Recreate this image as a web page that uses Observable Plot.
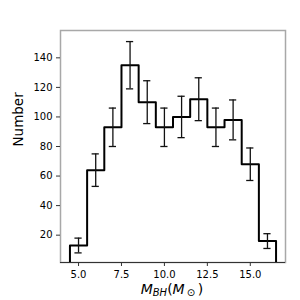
<!DOCTYPE html>
<html>
<head>
<meta charset="utf-8">
<script src="https://cdn.jsdelivr.net/npm/d3@7"></script>
<script src="https://cdn.jsdelivr.net/npm/@observablehq/plot@0.6"></script>
<style>
html,body{margin:0;padding:0;background:#fff;}
#chart{width:300px;height:300px;}
</style>
</head>
<body>
<div id="chart"></div>
<script>
const binCenters = [5, 6, 7, 8, 9, 10, 11, 12, 13, 14, 15, 16];
const counts = [13, 64, 93, 135, 110, 93, 100, 112, 93, 98, 68, 16];
const errors = [5, 11, 13, 16, 14.5, 13, 14, 14.5, 13, 13.5, 11, 5];
const xTicks = [5, 7.5, 10, 12.5, 15];
const yTicks = [20, 40, 60, 80, 100, 120, 140];
const xDomain = [3.95, 17.05];
const yDomain = [1.5, 158.5];

const binWidth = 1;
const stepPts = [{x: binCenters[0] - binWidth / 2, y: 0}]
  .concat(binCenters.map((c, i) => ({x: c - binWidth / 2, y: counts[i]})))
  .concat([{x: binCenters[binCenters.length - 1] + binWidth / 2, y: 0}]);
const errData = binCenters.map((c, i) => ({x: c, y: counts[i], lo: counts[i] - errors[i], hi: counts[i] + errors[i]}));
const capHalf = 0.21;

const chart = Plot.plot({
  width: 300,
  height: 300,
  marginLeft: 60,
  marginRight: 15,
  marginTop: 30,
  marginBottom: 38,
  style: {fontFamily: "DejaVu Sans", fontSize: "10px", color: "#000", background: "#fff"},
  x: {domain: xDomain, ticks: xTicks, tickFormat: d3.format(".1f"), label: null, tickSize: 4, tickPadding: 4},
  y: {domain: yDomain, ticks: yTicks, label: null, tickSize: 4, tickPadding: 4},
  marks: [
    Plot.frame({stroke: "#a8a8a8", strokeWidth: 1.5}),
    Plot.ruleY([yDomain[0]], {stroke: "#333", strokeWidth: 1.2}),
    Plot.axisX({ticks: xTicks, tickFormat: d3.format(".1f"), tickSize: 4, tickPadding: 4, stroke: "#333"}),
    Plot.axisY({ticks: yTicks, tickSize: 4, tickPadding: 4, stroke: "#333"}),
    Plot.line(stepPts, {x: "x", y: "y", curve: "step-after", stroke: "#000", strokeWidth: 2, clip: true}),
    Plot.ruleX(errData, {x: "x", y1: "lo", y2: "hi", stroke: "#111", strokeWidth: 1.3}),
    Plot.ruleY(errData, {y: "hi", x1: d => d.x - capHalf, x2: d => d.x + capHalf, stroke: "#111", strokeWidth: 1.3}),
    Plot.ruleY(errData, {y: "lo", x1: d => d.x - capHalf, x2: d => d.x + capHalf, stroke: "#111", strokeWidth: 1.3}),
    Plot.text(["Number"], {frameAnchor: "left", dx: -42, rotate: -90, fontSize: 13.5, fill: "#000"})
  ]
});
document.getElementById("chart").appendChild(chart);

// x-axis label with italic subscripts
const svg = d3.select(chart);
const t = svg.append("text")
  .attr("x", 172)
  .attr("y", 294)
  .attr("text-anchor", "middle")
  .attr("font-family", "DejaVu Sans")
  .attr("font-size", "14px")
  .attr("fill", "#000");
t.append("tspan").attr("font-style", "italic").text("M");
t.append("tspan").attr("font-style", "italic").attr("font-size", "10px").attr("dy", 2).text("BH");
t.append("tspan").attr("dy", -2).text("(");
t.append("tspan").attr("font-style", "italic").text("M");
t.append("tspan").attr("font-size", "10px").attr("dy", 2).text("\u2009\u2299");
t.append("tspan").attr("dy", -2).text("\u2009)");
</script>
</body>
</html>
